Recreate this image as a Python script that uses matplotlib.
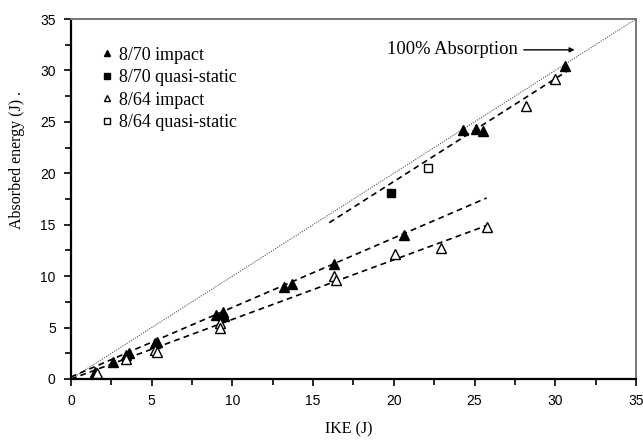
import numpy as np
import matplotlib
matplotlib.use("Agg")
import matplotlib.pyplot as plt
from matplotlib.lines import Line2D

# 8/70 laminate, impact tests
ike_70_imp = [1.5, 2.6, 3.4, 3.6, 5.2, 5.3, 9.0, 9.4, 9.5, 13.2, 13.7, 16.3, 20.6, 24.3, 25.1, 25.5, 30.6]
abs_70_imp = [0.7, 1.7, 2.3, 2.5, 3.5, 3.6, 6.2, 6.5, 6.1, 8.9, 9.2, 11.2, 14.0, 24.2, 24.3, 24.1, 30.4]
# 8/70 quasi-static
ike_70_qs = [19.8]
abs_70_qs = [18.1]
# 8/64 laminate, impact tests
ike_64_imp = [1.6, 3.4, 5.2, 5.3, 9.2, 9.2, 16.3, 16.4, 20.1, 22.9, 25.8, 28.2, 30.0]
abs_64_imp = [0.6, 1.9, 2.8, 2.6, 5.4, 5.0, 10.0, 9.6, 12.2, 12.7, 14.8, 26.5, 29.2]
# 8/64 quasi-static
ike_64_qs = [22.1]
abs_64_qs = [20.5]

# trend lines (end points)
fit_low70_x = [0.0, 25.75]
fit_low70_y = [0.2, 17.6]
fit_low64_x = [0.0, 25.8]
fit_low64_y = [0.0, 14.95]
fit_high_x = [16.0, 30.9]
fit_high_y = [15.2, 30.1]
full_abs = [0.0, 35.0]

fig = plt.figure(figsize=(6.43, 4.41), dpi=100)
ax = fig.add_axes([0.1104, 0.1406, 0.8787, 0.8163])

ax.plot(full_abs, full_abs, color="#555555", ls=(0, (1, 1.2)), lw=0.8)
for fx, fy in [(fit_low70_x, fit_low70_y), (fit_low64_x, fit_low64_y), (fit_high_x, fit_high_y)]:
    ax.plot(fx, fy, color="black", lw=1.2, dashes=(3.5, 2.5))

ax.plot(ike_70_imp, abs_70_imp, ls="none", marker="^", ms=6.5, mfc="black", mec="black")
ax.plot(ike_70_qs, abs_70_qs, ls="none", marker="s", ms=5.5, mfc="black", mec="black")
ax.plot(ike_64_imp, abs_64_imp, ls="none", marker="^", ms=6.5, mfc="white", mec="black", mew=1.0)
ax.plot(ike_64_qs, abs_64_qs, ls="none", marker="s", ms=5.5, mfc="white", mec="black", mew=1.0)

ax.annotate("100% Absorption", xy=(31.2, 32.0), xytext=(27.7, 32.0),
            ha="right", va="center", fontsize=13.3, family="Liberation Serif",
            arrowprops=dict(arrowstyle="-|>", color="black", lw=1.0,
                            mutation_scale=7, shrinkA=2, shrinkB=0))

handles = [
    Line2D([], [], ls="none", marker="^", ms=5, mfc="black", mec="black"),
    Line2D([], [], ls="none", marker="s", ms=4.5, mfc="black", mec="black"),
    Line2D([], [], ls="none", marker="^", ms=5, mfc="white", mec="black"),
    Line2D([], [], ls="none", marker="s", ms=4.5, mfc="white", mec="black"),
]
labels = ["8/70 impact", "8/70 quasi-static", "8/64 impact", "8/64 quasi-static"]
ax.legend(handles, labels, loc="upper left", bbox_to_anchor=(0.025, 0.963),
          frameon=False, handlelength=0.8, handletextpad=0.3, labelspacing=0.3,
          borderpad=0.3, prop={"family": "Liberation Serif", "size": 13})

ax.set_xlim(0, 35)
ax.set_ylim(0, 35)
ax.set_xticks(np.arange(0, 36, 5))
ax.set_yticks(np.arange(0, 36, 5))
ax.set_xticks(np.arange(2.5, 35, 5), minor=True)
ax.set_yticks(np.arange(2.5, 35, 5), minor=True)
ax.tick_params(which="both", direction="out", width=1.2, colors="black")
ax.tick_params(which="major", length=5, labelsize=10, pad=6)
ax.tick_params(which="minor", length=4)
for lab in ax.get_xticklabels() + ax.get_yticklabels():
    lab.set_family("Liberation Sans")

for side in ["left", "bottom"]:
    ax.spines[side].set_linewidth(1.6)
    ax.spines[side].set_color("black")
for side in ["top", "right"]:
    ax.spines[side].set_linewidth(1.4)
    ax.spines[side].set_color("#777777")

ax.set_xlabel("IKE (J)", family="Liberation Serif", fontsize=11.5)
ax.set_ylabel("Absorbed energy (J) .", family="Liberation Serif", fontsize=11.5)
ax.xaxis.set_label_coords(0.492, -0.117)
ax.yaxis.set_label_coords(-0.081, 0.608)

fig.savefig("out.png", dpi=100)
